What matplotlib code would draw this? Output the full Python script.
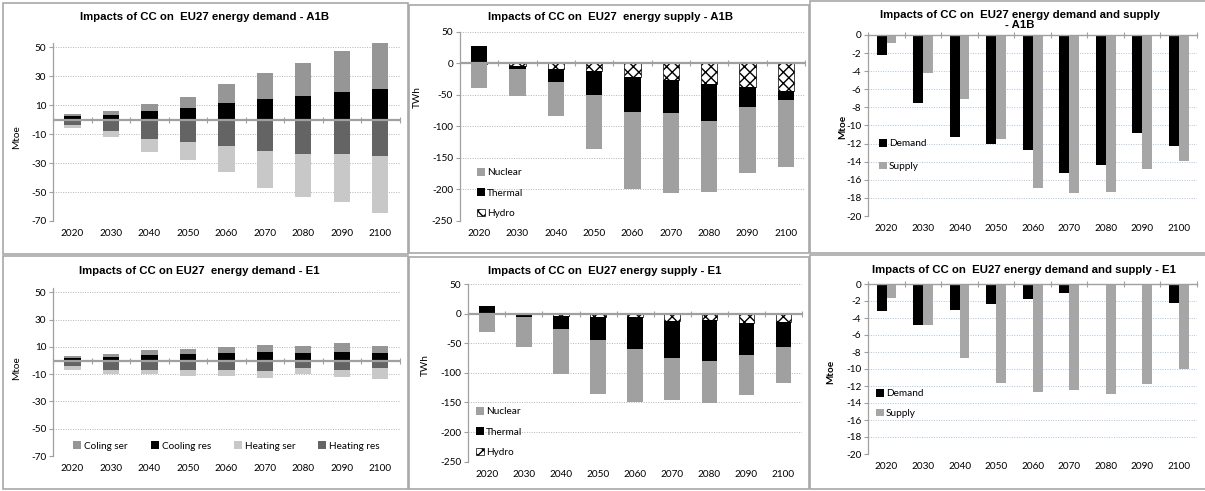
import numpy as np
import matplotlib
matplotlib.use('Agg')
import matplotlib.pyplot as plt
from matplotlib.patches import Rectangle

# categories
years = ['2020', '2030', '2040', '2050', '2060', '2070', '2080', '2090', '2100']

# demand A1B (Mtoe)
a1b_coling_ser = [1.8, 2.9, 5.2, 7.9, 13.0, 17.9, 23.0, 28.1, 31.8]
a1b_cooling_res = [2.3, 3.0, 5.7, 8.0, 11.4, 14.4, 16.4, 19.1, 21.0]
a1b_heating_ser = [-1.8, -4.3, -9.1, -12.3, -17.7, -25.3, -29.6, -33.3, -39.4]
a1b_heating_res = [-3.9, -8.0, -13.0, -15.3, -18.5, -21.9, -23.7, -23.9, -25.1]

# demand E1 (Mtoe)
e1_coling_ser = [1.5, 2.2, 3.6, 4.2, 4.3, 5.4, 5.6, 6.6, 5.6]
e1_cooling_res = [1.9, 2.9, 3.9, 4.6, 5.4, 6.3, 5.4, 6.3, 5.4]
e1_heating_ser = [-2.5, -3.1, -3.6, -4.4, -4.4, -5.4, -4.8, -5.6, -7.6]
e1_heating_res = [-4.1, -6.6, -6.6, -6.6, -6.6, -7.3, -5.4, -6.6, -5.8]

# supply A1B (TWh)
a1b_nuclear = [-38.6, -42.2, -54.4, -85.0, -121.5, -126.8, -112.5, -105.6, -105.7]
a1b_thermal = [28.0, -5.3, -20.1, -38.1, -55.5, -52.8, -57.6, -30.7, -14.8]
a1b_hydro = [-1.0, -3.7, -9.0, -12.1, -22.2, -26.4, -33.3, -38.0, -43.3]

# supply E1 (TWh)
e1_nuclear = [-31.0, -49.5, -76.0, -90.6, -89.4, -71.5, -70.3, -67.5, -61.3]
e1_thermal = [13.5, -5.6, -20.8, -39.4, -54.6, -61.9, -69.2, -53.4, -42.2]
e1_hydro = [0.0, -0.5, -4.5, -5.6, -5.1, -12.9, -11.3, -15.8, -14.1]

# demand and supply (Mtoe)
a1b_demand = [-2.2, -7.5, -11.3, -12.0, -12.7, -15.3, -14.4, -10.8, -12.3]
a1b_supply = [-0.9, -4.2, -7.1, -11.5, -16.9, -17.5, -17.3, -14.8, -13.9]
e1_demand = [-3.2, -4.8, -3.0, -2.4, -1.8, -1.0, 0.0, 0.0, -2.2]
e1_supply = [-1.6, -4.8, -8.7, -11.6, -12.7, -12.5, -12.9, -11.8, -10.0]

W, H = 1205, 491
TICKFONT = 'Lato'
TITLEFONT = 'Liberation Sans'
FS = 7.2
AXCOL = '#a0a0a0'
plt.rcParams['hatch.linewidth'] = 1.0

fig = plt.figure(figsize=(W / 100, H / 100), dpi=100)

# panel frames
for (x0, y0, x1, y1) in [(3, 3, 408, 254), (409, 5, 809, 253), (810, 1, 1210, 253),
                         (3, 256, 408, 489), (409, 257, 809, 489), (810, 255, 1210, 489)]:
    fig.add_artist(Rectangle((x0 / W, 1 - y1 / H), (x1 - x0) / W, (y1 - y0) / H,
                             transform=fig.transFigure, fill=False,
                             edgecolor='#a8a8a8', lw=1.2))


def add_ax(x0, x1, y0, y1):
    return fig.add_axes([x0 / W, 1 - y1 / H, (x1 - x0) / W, (y1 - y0) / H])


def style(ax, ylim, yticks, gridcol, ylabel, lab_x, lab_y, bold=False, top_axis=False):
    x = np.arange(len(years))
    ax.set_xlim(-0.5, len(years) - 0.5)
    ax.set_ylim(*ylim)
    ax.set_yticks(yticks)
    ax.set_yticklabels([str(v) for v in yticks], fontfamily=TICKFONT, fontsize=FS)
    ax.set_xticks(x)
    ax.set_xticklabels(years, fontfamily=TICKFONT, fontsize=FS)
    ax.tick_params(axis='x', length=0, pad=6)
    ax.tick_params(axis='y', length=3, width=0.8, color=AXCOL, pad=2)
    for s in ['top', 'right', 'bottom']:
        ax.spines[s].set_visible(False)
    ax.spines['left'].set_color(AXCOL)
    ax.spines['left'].set_linewidth(0.9)
    ax.yaxis.grid(True, linestyle=(0, (1, 1.5)), color=gridcol, lw=0.7)
    ax.set_axisbelow(True)
    # category axis crossing at zero
    if top_axis:
        ax.spines['top'].set_visible(True)
        ax.spines['top'].set_color(AXCOL)
        ax.spines['top'].set_linewidth(1.0)
    else:
        ax.axhline(0, color=AXCOL, lw=1.6, zorder=3)
    ax.plot(np.arange(len(years) + 1) - 0.5, np.zeros(len(years) + 1), ls='none',
            marker='|', ms=4, mew=0.8, color=AXCOL, clip_on=False, zorder=4)
    ax.set_ylabel(ylabel, fontfamily=TICKFONT, fontsize=FS,
                  fontweight='bold' if bold else 'normal')
    ax.yaxis.set_label_coords(lab_x, lab_y)


def stack(ax, series, colors, hatches, labels, width=0.42):
    x = np.arange(len(years))
    pos = np.zeros(len(years))
    neg = np.zeros(len(years))
    handles = {}
    for vals, c, h, lab in zip(series, colors, hatches, labels):
        v = np.array(vals)
        bottom = np.where(v >= 0, pos, neg)
        if h:
            b = ax.bar(x, v, width, bottom=bottom, color=c, hatch=h,
                       edgecolor='black', lw=0.5, label=lab, zorder=2)
        else:
            b = ax.bar(x, v, width, bottom=bottom, color=c, lw=0, label=lab, zorder=2)
        handles[lab] = b
        pos = pos + np.where(v >= 0, v, 0)
        neg = neg + np.where(v < 0, v, 0)
    return handles


def title(x, y, txt):
    fig.text(x / W, 1 - y / H, txt, ha='center', va='center', fontfamily=TITLEFONT,
             fontweight='bold', fontsize=8.2, linespacing=1.05)


dem_cols = ['#000000', '#969696', '#646464', '#c8c8c8']
dem_labels = ['Cooling res', 'Coling ser', 'Heating res', 'Heating ser']

# ---- top left: demand A1B
ax = add_ax(53.3, 399.6, 43, 221)
stack(ax, [a1b_cooling_res, a1b_coling_ser, a1b_heating_res, a1b_heating_ser],
      dem_cols, [None] * 4, dem_labels)
style(ax, (-70, 53), [50, 30, 10, -10, -30, -50, -70], '#b4b4b4', 'Mtoe',
      (21 - 53.3) / 346.3, (221 - 137) / 178)
title(205, 17, 'Impacts of CC on  EU27 energy demand - A1B')

# ---- bottom left: demand E1
ax = add_ax(53.3, 399.6, 288.3, 456)
hd = stack(ax, [e1_cooling_res, e1_coling_ser, e1_heating_res, e1_heating_ser],
           dem_cols, [None] * 4, dem_labels)
style(ax, (-70, 53), [50, 30, 10, -10, -30, -50, -70], '#b4b4b4', 'Mtoe',
      (21 - 53.3) / 346.3, (456 - 368) / 167.7)
title(199, 271, 'Impacts of CC on EU27  energy demand - E1')
order = ['Coling ser', 'Cooling res', 'Heating ser', 'Heating res']
ax.legend([hd[k] for k in order], order, ncol=4, loc='center',
          bbox_to_anchor=(0.5, (456 - 446) / 167.7), frameon=False,
          prop={'family': TICKFONT, 'size': FS}, handlelength=0.8, handleheight=0.8,
          handletextpad=0.3, columnspacing=2.3, borderpad=0, borderaxespad=0)

sup_cols = ['white', '#000000', '#a0a0a0']
sup_hatch = ['xxx', None, None]
sup_labels = ['Hydro', 'Thermal', 'Nuclear']
sup_ticks = [50, 0, -50, -100, -150, -200, -250]


def sup_legend(ax, hs, x, y):
    order = ['Nuclear', 'Thermal', 'Hydro']
    ax.legend([hs[k] for k in order], order, loc='center left', bbox_to_anchor=(x, y),
              frameon=False, prop={'family': TICKFONT, 'size': FS}, handlelength=0.8,
              handleheight=0.8, handletextpad=0.2, labelspacing=1.1, borderpad=0,
              borderaxespad=0)


# ---- top middle: supply A1B
ax = add_ax(460, 805, 31.7, 221)
hs = stack(ax, [a1b_hydro, a1b_thermal, a1b_nuclear], sup_cols, sup_hatch, sup_labels, 0.43)
style(ax, (-250, 50), sup_ticks, '#b4b4b4', 'TWh', (422 - 460) / 345, (221 - 97) / 189.3)
sup_legend(ax, hs, (477 - 460) / 345, (221 - 193) / 189.3)
title(611, 17, 'Impacts of CC on  EU27  energy supply - A1B')

# ---- bottom middle: supply E1
ax = add_ax(468.3, 802, 284, 461.7)
hs = stack(ax, [e1_hydro, e1_thermal, e1_nuclear], sup_cols, sup_hatch, sup_labels, 0.42)
style(ax, (-250, 50), sup_ticks, '#b4b4b4', 'TWh', (430 - 468.3) / 333.7,
      (461.7 - 365) / 177.7)
sup_legend(ax, hs, (476 - 468.3) / 333.7, (461.7 - 432) / 177.7)
title(605, 271, 'Impacts of CC on  EU27 energy supply - E1')


def ds_panel(box, dem, sup, lab_pos, leg_pos, spacing):
    ax = add_ax(*box)
    x = np.arange(len(years))
    w = 0.27
    bd = ax.bar(x - w / 2, dem, w, color='black', lw=0, zorder=2)
    bs = ax.bar(x + w / 2, sup, w, color='#a6a6a6', lw=0, zorder=2)
    style(ax, (-20, 0), list(range(0, -21, -2)), '#a9c4e4', 'Mtoe',
          lab_pos[0], lab_pos[1], bold=True, top_axis=True)
    ax.legend([bd, bs], ['Demand', 'Supply'], loc='center left', bbox_to_anchor=leg_pos,
              frameon=False, prop={'family': TICKFONT, 'size': FS}, handlelength=0.8,
              handleheight=0.8, handletextpad=0.2, labelspacing=spacing, borderpad=0,
              borderaxespad=0)
    return ax


# ---- top right: demand & supply A1B
ds_panel((868.3, 1197, 35, 216), a1b_demand, a1b_supply,
         ((847 - 868.3) / 328.7, (216 - 127) / 181),
         ((879 - 868.3) / 328.7, (216 - 155) / 181), 1.35)
title(1020, 20, 'Impacts of CC on  EU27 energy demand and supply\n- A1B')

# ---- bottom right: demand & supply E1
ds_panel((868.3, 1197, 284, 454), e1_demand, e1_supply,
         ((835 - 868.3) / 328.7, (454 - 372) / 170),
         ((876 - 868.3) / 328.7, (454 - 403.5) / 170), 1.0)
title(1024, 270, 'Impacts of CC on  EU27 energy demand and supply - E1')

fig.savefig('out.png', dpi=100)
